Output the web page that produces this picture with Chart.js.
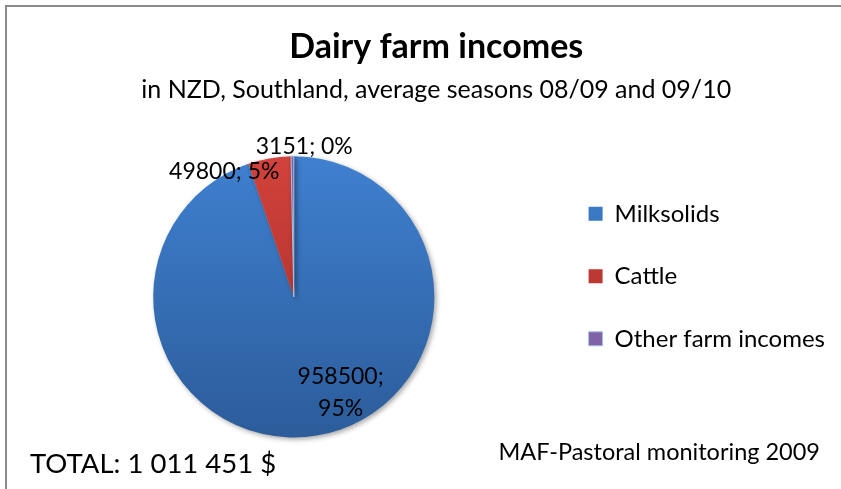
<!DOCTYPE html>
<html>
<head>
<meta charset="utf-8">
<title>Dairy farm incomes</title>
<script src="https://cdn.jsdelivr.net/npm/chart.js@4.4.0/dist/chart.umd.min.js"></script>
<style>
  html, body { margin: 0; padding: 0; background: #fff; }
  #wrap { width: 841px; height: 489px; position: relative; }
</style>
</head>
<body>
<div id="wrap"><canvas id="mycanvas" width="841" height="489"></canvas></div>
<script>
// income sources, NZD per farm
var sources = ['Milksolids', 'Cattle', 'Other farm incomes'];
var incomes = [958500, 49800, 3151];
var totalText = 'TOTAL: 1 011 451 $';
var sourceNote = 'MAF-Pastoral monitoring 2009';

var FONT = 'Lato, "Open Sans", sans-serif';

// top/bottom gradient stops for each slice
var shades = [
	['#3f80d0', '#2c5c9a'],
	['#d3423c', '#9c2b27'],
	['#8a6cb3', '#7a5ea0']
];

// where each value label sits: angle in degrees (canvas), distance as share of radius
var labelSpots = [
	{ angle: 64, dist: 0.76, lines: 2 },
	{ angle: -119, dist: 1.02, lines: 1 },
	{ angle: -86, dist: 1.07, lines: 1 }
];

function sliceFill(c) {
	var s = shades[c.dataIndex] || shades[0];
	var area = c.chart.chartArea;
	if (!area) return s[0];
	var g = c.chart.ctx.createLinearGradient(0, area.top, 0, area.bottom);
	g.addColorStop(0, s[0]);
	g.addColorStop(1, s[1]);
	return g;
}

var total = incomes.reduce(function(a, b) { return a + b; }, 0);

var frame = {
	id: 'frame',
	beforeDraw: function(chart) {
		var ctx = chart.ctx;
		ctx.save();
		ctx.fillStyle = '#fff';
		ctx.fillRect(0, 0, chart.width, chart.height);
		ctx.strokeStyle = '#8c8c8c';
		ctx.lineWidth = 2;
		ctx.beginPath();
		ctx.moveTo(6, chart.height);
		ctx.lineTo(6, 6);
		ctx.lineTo(chart.width, 6);
		ctx.stroke();
		ctx.restore();
	}
};

var shadow = {
	id: 'shadow',
	beforeDatasetsDraw: function(chart) {
		var ctx = chart.ctx;
		ctx.save();
		ctx.shadowColor = 'rgba(0,0,0,0.35)';
		ctx.shadowBlur = 5;
		ctx.shadowOffsetX = 2;
		ctx.shadowOffsetY = 2;
	},
	afterDatasetsDraw: function(chart) {
		chart.ctx.restore();
	}
};

var valueLabels = {
	id: 'valueLabels',
	afterDatasetsDraw: function(chart) {
		var ctx = chart.ctx;
		var arcs = chart.getDatasetMeta(0).data;
		ctx.save();
		ctx.font = '23px ' + FONT;
		ctx.fillStyle = '#000';
		ctx.textAlign = 'center';
		ctx.textBaseline = 'middle';
		arcs.forEach(function(arc, i) {
			var p = arc.getProps(['x', 'y', 'outerRadius']);
			var spot = labelSpots[i];
			var a = spot.angle * Math.PI / 180;
			var x = p.x + Math.cos(a) * p.outerRadius * spot.dist;
			var y = p.y + Math.sin(a) * p.outerRadius * spot.dist;
			var pct = Math.round(incomes[i] / total * 100) + '%';
			if (spot.lines === 2) {
				ctx.fillText(incomes[i] + ';', x, y - 16);
				ctx.fillText(pct, x, y + 16);
			} else {
				ctx.fillText(incomes[i] + '; ' + pct, x, y);
			}
		});
		ctx.restore();
	}
};

var footnotes = {
	id: 'footnotes',
	afterDraw: function(chart) {
		var ctx = chart.ctx;
		ctx.save();
		ctx.fillStyle = '#000';
		ctx.textBaseline = 'middle';
		ctx.textAlign = 'left';
		ctx.font = '27.5px ' + FONT;
		ctx.fillText(totalText, 30, 464);
		ctx.font = '23.5px ' + FONT;
		ctx.textAlign = 'right';
		ctx.fillText(sourceNote, 820, 452);
		ctx.restore();
	}
};

var ctx = document.getElementById('mycanvas');

var pieChart = new Chart(ctx, {
	type: 'pie',
	data: {
		labels: sources,
		datasets: [{
			data: incomes,
			backgroundColor: sliceFill,
			borderColor: ['#3f80d0', '#c23c37', '#a9c1e6'],
			borderWidth: [0, 0, 1]
		}]
	},
	plugins: [frame, shadow, valueLabels, footnotes],
	options: {
		responsive: false,
		animation: false,
		layout: { padding: { top: 0, bottom: 51, left: 37.5, right: 6 } },
		plugins: {
			title: {
				display: true,
				text: 'Dairy farm incomes',
				color: '#000',
				font: { family: FONT, size: 34, weight: 'bold' },
				padding: { top: 27, bottom: 3 }
			},
			subtitle: {
				display: true,
				text: 'in NZD, Southland, average seasons 08/09 and 09/10',
				color: '#000',
				font: { family: FONT, size: 25 },
				padding: { top: 4, bottom: 51 }
			},
			legend: {
				position: 'right',
				align: 'start',
				fullSize: false,
				title: { display: true, text: '', font: { size: 7.5, lineHeight: 1 }, padding: 0 },
				labels: {
					color: '#000',
					font: { family: FONT, size: 24 },
					boxWidth: 14,
					boxHeight: 14,
					padding: 38.5
				}
			},
			tooltip: { enabled: false }
		}
	}
});
</script>
</body>
</html>
